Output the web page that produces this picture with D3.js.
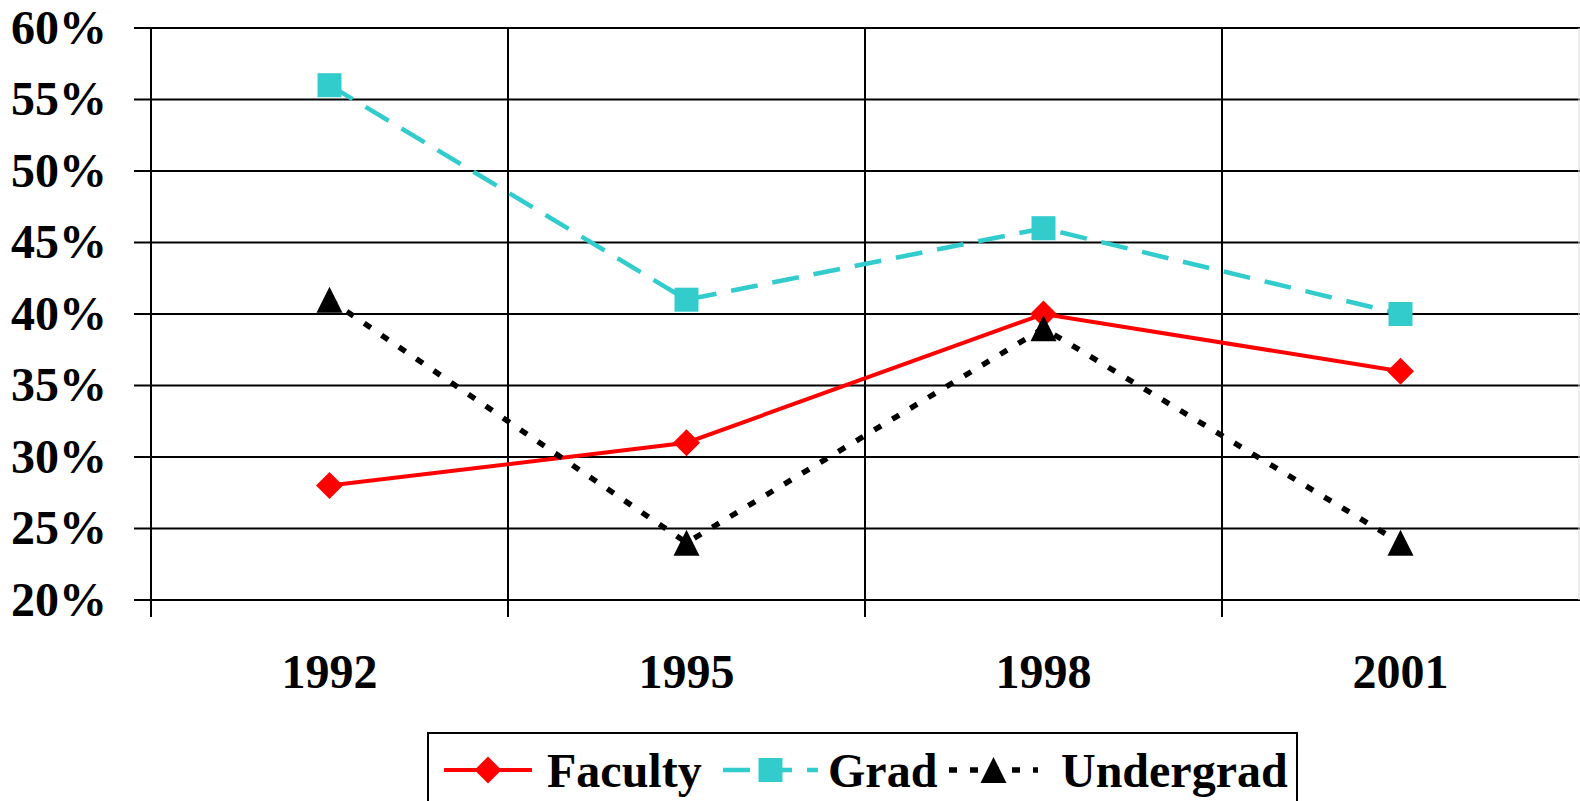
<!DOCTYPE html>
<html>
<head>
<meta charset="utf-8">
<script src="https://cdn.jsdelivr.net/npm/d3@7"></script>
<style>
  body { margin: 0; background: #fff; }
  text { font-family: "Liberation Serif", "Times New Roman", serif; font-weight: bold; }
</style>
</head>
<body>
<div id="container"></div>
<script>
/* DATA */
const years = ["1992", "1995", "1998", "2001"];
const faculty = [0.28, 0.31, 0.40, 0.36];
const grad = [0.56, 0.41, 0.46, 0.40];
const undergrad = [0.41, 0.24, 0.39, 0.24];
const yTicks = [0.20, 0.25, 0.30, 0.35, 0.40, 0.45, 0.50, 0.55, 0.60];

/* CONSTANTS */
const width = 1580;
const height = 801;
const plotLeft = 151, plotRight = 1579, plotTop = 28, plotBottom = 600;
const fontSize = 48;

const svg = d3.select("#container")
  .append("svg")
  .attr("width", width)
  .attr("height", height)

const xScale = d3.scaleBand()
  .domain(years)
  .range([plotLeft, plotRight])
  .padding(0)

const yScale = d3.scaleLinear()
  .domain([0.2, 0.6])
  .range([plotBottom, plotTop])

// horizontal grid
svg.append("g")
  .selectAll("line")
  .data(yTicks)
  .join("line")
  .attr("x1", plotLeft - 17)
  .attr("x2", width)
  .attr("y1", d => yScale(d))
  .attr("y2", d => yScale(d))
  .attr("stroke", "#000")
  .attr("stroke-width", 2)

// vertical grid at category boundaries
svg.append("g")
  .selectAll("line")
  .data(years)
  .join("line")
  .attr("x1", d => xScale(d))
  .attr("x2", d => xScale(d))
  .attr("y1", plotTop)
  .attr("y2", plotBottom + 17)
  .attr("stroke", "#000")
  .attr("stroke-width", 2)

svg.append("line")
  .attr("x1", plotRight).attr("x2", plotRight)
  .attr("y1", plotTop).attr("y2", plotBottom)
  .attr("stroke", "#ddd")
  .attr("stroke-width", 1)

// y axis labels
const yAxis = d3.axisLeft(yScale)
  .tickValues(yTicks)
  .tickFormat(d3.format(".0%"))
  .tickSizeInner(17)
  .tickSizeOuter(0)
  .tickPadding(27)
svg.append("g")
  .attr("transform", `translate(${plotLeft}, 0)`)
  .call(yAxis)
  .call(g => g.select(".domain").remove())
  .call(g => g.selectAll("line").remove())
  .call(g => g.selectAll("text")
    .attr("font-size", fontSize)
    .attr("font-family", "Liberation Serif")
    .attr("font-weight", "bold")
    .attr("fill", "#000"))

// x axis labels
const xAxis = d3.axisBottom(xScale)
  .tickSize(0)
  .tickPadding(54)
svg.append("g")
  .attr("transform", `translate(0, ${plotBottom})`)
  .call(xAxis)
  .call(g => g.select(".domain").remove())
  .call(g => g.selectAll("text")
    .attr("font-size", fontSize)
    .attr("font-family", "Liberation Serif")
    .attr("font-weight", "bold")
    .attr("fill", "#000"))

/* MARKERS */
const diamondType = {
  draw(ctx, size) {
    const r = Math.sqrt(size) / 2;
    ctx.moveTo(0, -r); ctx.lineTo(r, 0); ctx.lineTo(0, r); ctx.lineTo(-r, 0); ctx.closePath();
  }
}
const triangleType = {
  draw(ctx, size) {
    const s = Math.sqrt(size) / 2;
    ctx.moveTo(0, -s); ctx.lineTo(s, s); ctx.lineTo(-s, s); ctx.closePath();
  }
}

const series = [
  { name: "Faculty", values: faculty, color: "#FF0000", width: 4, dash: null,
    symbol: d3.symbol().type(diamondType).size(27 * 27) },
  { name: "Grad", values: grad, color: "#33CCCC", width: 4.5, dash: "27,15",
    symbol: d3.symbol().type(d3.symbolSquare).size(24 * 24) },
  { name: "Undergrad", values: undergrad, color: "#000000", width: 5.5, dash: "8,13",
    symbol: d3.symbol().type(triangleType).size(26 * 26) }
]

const cx = d => xScale(d) + xScale.bandwidth() / 2;

const line = d3.line()
  .x((d, i) => cx(years[i]))
  .y(d => yScale(d))

series.forEach(s => {
  svg.append("path")
    .datum(s.values)
    .attr("d", line)
    .attr("fill", "none")
    .attr("stroke", s.color)
    .attr("stroke-width", s.width)
    .attr("stroke-dasharray", s.dash)

  svg.append("g")
    .selectAll("path")
    .data(s.values)
    .join("path")
    .attr("transform", (d, i) => `translate(${cx(years[i])}, ${yScale(d)})`)
    .attr("d", s.symbol)
    .attr("fill", s.color)
})

/* LEGEND */
const legend = svg.append("g")
legend.append("rect")
  .attr("x", 428).attr("y", 733)
  .attr("width", 869).attr("height", 90)
  .attr("fill", "#fff")
  .attr("stroke", "#000")
  .attr("stroke-width", 2)

const legendPos = [
  { x1: 444, x2: 532, text: 547 },
  { x1: 723, x2: 818, text: 828 },
  { x1: 949, x2: 1038, text: 1061 }
]
const ly = 770;

series.forEach((s, i) => {
  const p = legendPos[i];
  legend.append("line")
    .attr("x1", p.x1).attr("x2", p.x2)
    .attr("y1", ly).attr("y2", ly)
    .attr("stroke", s.color)
    .attr("stroke-width", s.width)
    .attr("stroke-dasharray", s.dash)
  legend.append("path")
    .attr("transform", `translate(${(p.x1 + p.x2) / 2}, ${ly})`)
    .attr("d", s.symbol)
    .attr("fill", s.color)
  legend.append("text")
    .attr("x", p.text)
    .attr("y", 787)
    .attr("font-size", fontSize)
    .attr("fill", "#000")
    .text(s.name)
})
</script>
</body>
</html>
